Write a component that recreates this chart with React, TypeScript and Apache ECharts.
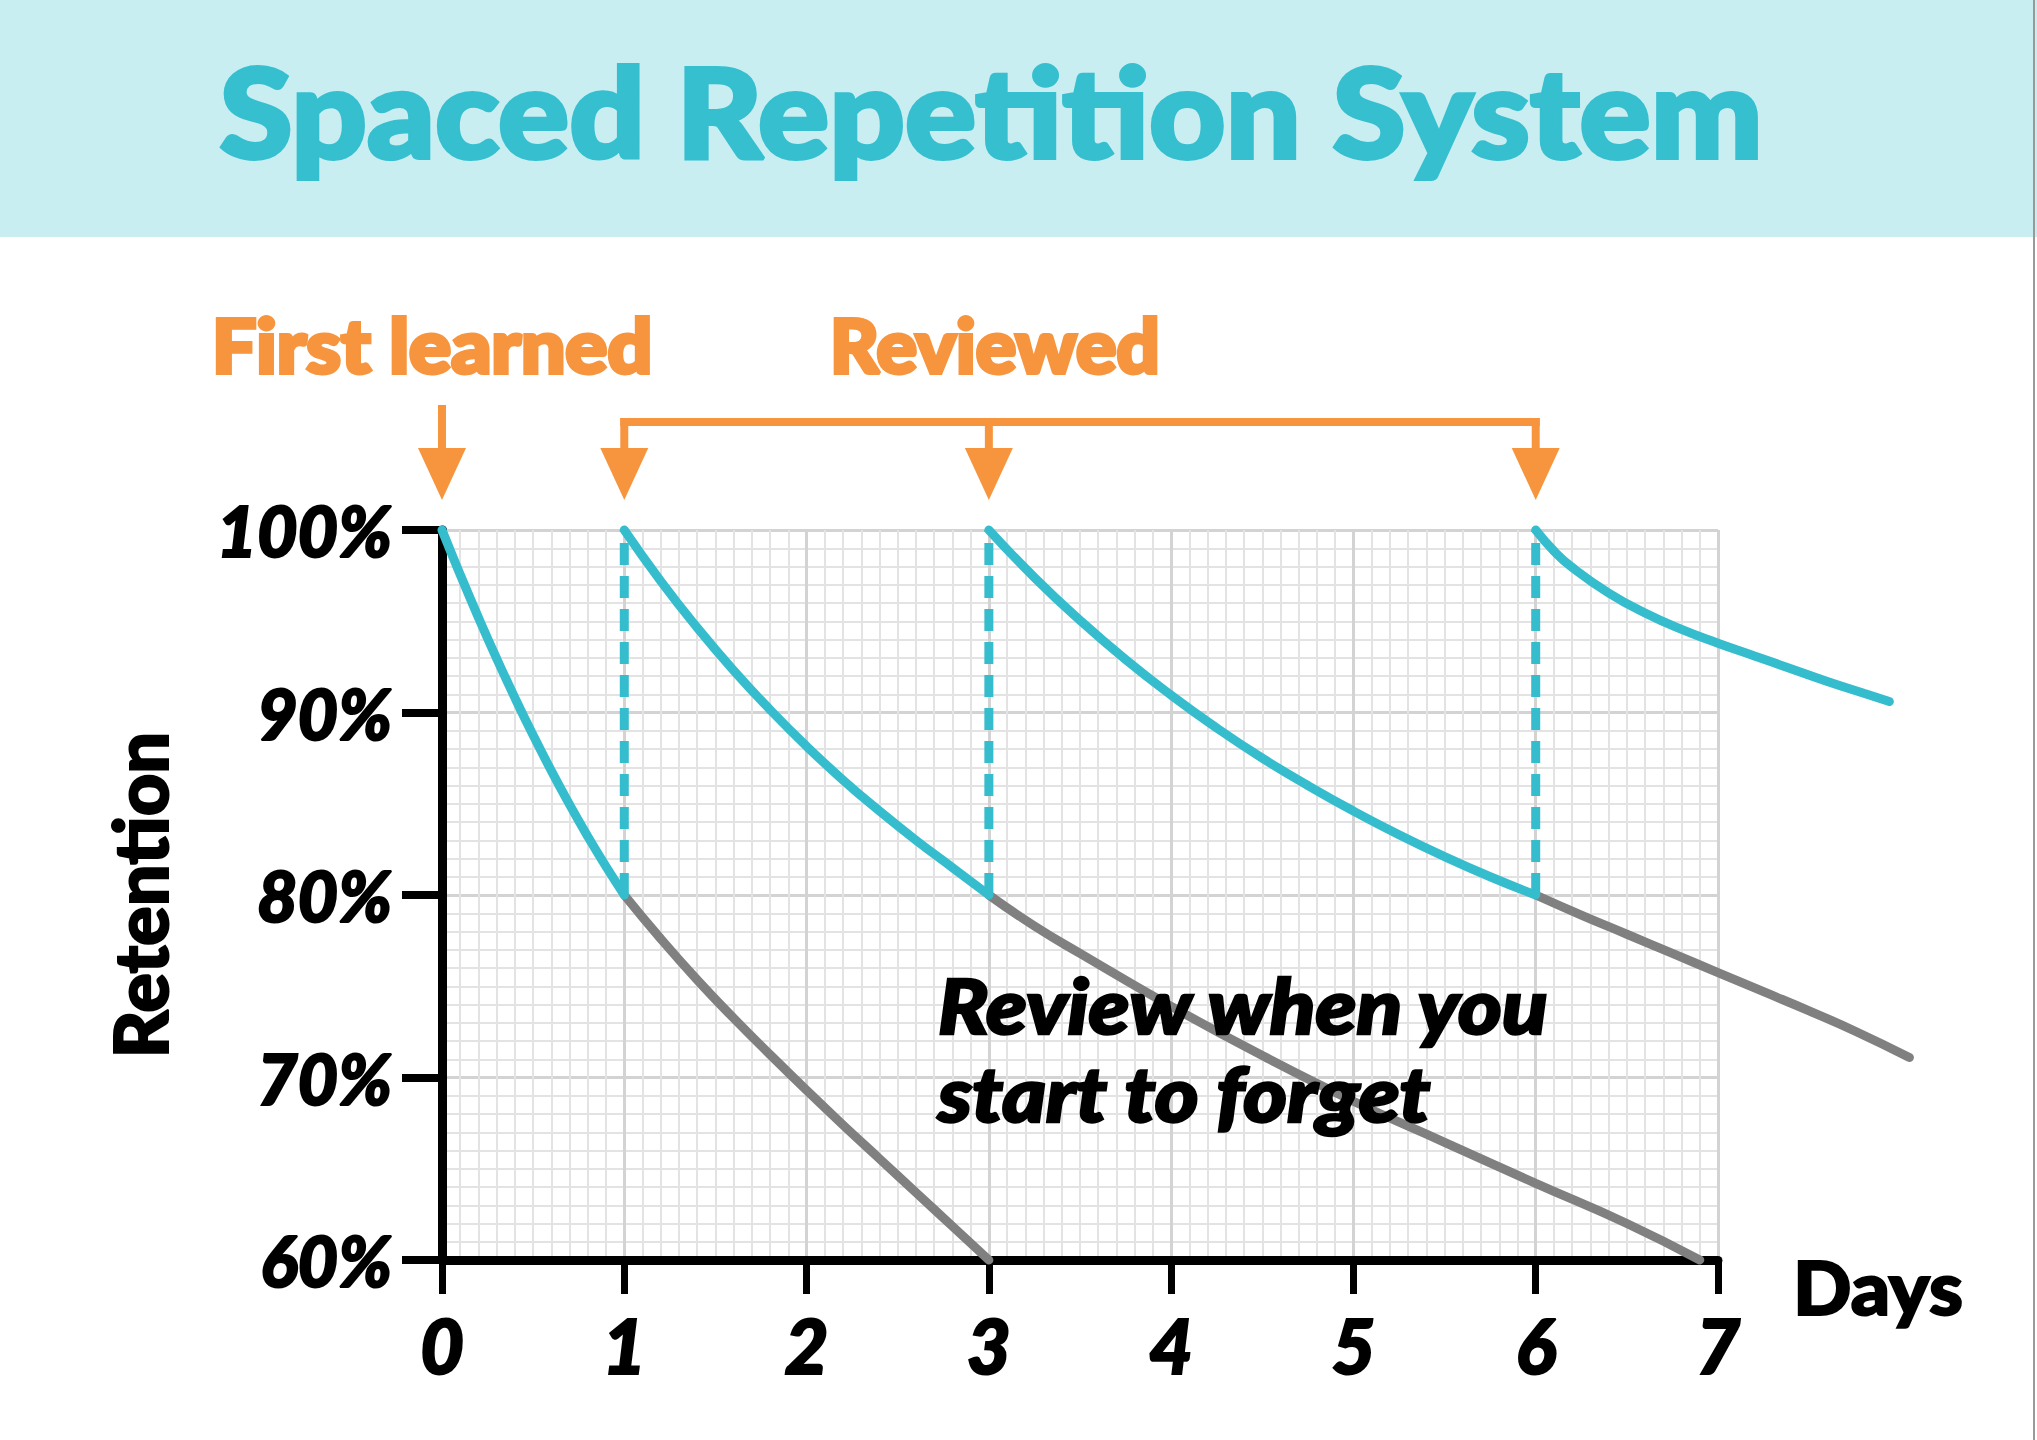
import React, { useEffect, useRef } from "react";
import * as echarts from "echarts";

// ---------- data ----------
const dayMin = 0;
const dayMax = 7;
const dayPlotMax = 8.2; // curves run past the last day tick
const retentionMin = 60;
const retentionMax = 100;
const firstLearnedDay = 0;
const reviewDays = [1, 3, 6];
const reviewThreshold = 80;

// retention while remembering (teal)
const firstDecay = [
  [0, 100], [0.1, 97.55], [0.2, 95.2], [0.3, 92.95], [0.4, 90.8], [0.5, 88.75],
  [0.6, 86.8], [0.7, 84.95], [0.8, 83.2], [0.9, 81.55], [1, 80],
];
const review1Decay = [
  [1, 100], [1.2, 97.2], [1.4, 94.65], [1.6, 92.3], [1.8, 90.15], [2.0, 88.15],
  [2.2, 86.3], [2.4, 84.6], [2.6, 83.0], [2.8, 81.5], [3, 80],
];
const review2Decay = [
  [3, 100], [3.25, 97.4], [3.5, 95.05], [3.75, 92.9], [4, 90.95], [4.25, 89.15],
  [4.5, 87.5], [4.75, 86.0], [5, 84.6], [5.25, 83.3], [5.5, 82.1], [5.75, 81.0], [6, 80],
];
const review3Decay = [
  [6, 100], [6.1, 98.85], [6.2, 97.95], [6.4, 96.55], [6.6, 95.45], [6.8, 94.55],
  [7.0, 93.8], [7.2, 93.1], [7.4, 92.4], [7.6, 91.7], [7.8, 91.05], [7.94, 90.6],
];
// forgetting without review (gray)
const forget1 = [
  [1, 80], [1.2, 77.6], [1.4, 75.35], [1.6, 73.25], [1.8, 71.25], [2.0, 69.3],
  [2.2, 67.4], [2.4, 65.55], [2.6, 63.7], [2.8, 61.85], [3, 60],
];
const forget2 = [
  [3, 80], [3.25, 78.3], [3.5, 76.8], [4, 73.9], [4.5, 71.2], [5, 68.7],
  [5.5, 66.45], [6, 64.2], [6.5, 62.0], [6.9, 60],
];
const forget3 = [
  [6, 80], [6.25, 78.9], [6.5, 77.85], [6.75, 76.8], [7, 75.75], [7.25, 74.7],
  [7.5, 73.65], [7.75, 72.55], [8.05, 71.1],
];

const titleText = "Spaced Repetition System";
const firstLearnedText = "First learned";
const reviewedText = "Reviewed";
const noteLines = ["Review when you", "start to forget"];
const xAxisName = "Days";
const yAxisName = "Retention";

// ---------- styles ----------
const TEAL = "#36bdcd";
const GRAY = "#808080";
const ORANGE = "#f7953e";
const FONT = "Lato";

const GRID_LEFT = 442;
const GRID_RIGHT = 319;
const GRID_TOP = 530;
const GRID_BOTTOM = 180;
const CHART_W = 2037;

export default function App() {
  const ref = useRef<HTMLDivElement>(null);

  useEffect(() => {
    if (!ref.current) return;
    const chart = echarts.init(ref.current, null, { renderer: "svg" });

    const gridW = CHART_W - GRID_LEFT - GRID_RIGHT;
    const plotW = (gridW * (dayPlotMax - dayMin)) / (dayMax - dayMin);

    const curve = (name: string, data: number[][], color: string, z: number) => ({
      type: "line",
      name,
      data,
      xAxisIndex: 1,
      yAxisIndex: 1,
      smooth: true,
      symbol: "none",
      clip: false,
      z,
      lineStyle: { color, width: 9, cap: "round" },
    });

    const dashed = reviewDays.map((d) => ({
      type: "line",
      name: "review " + d,
      data: [[d, reviewThreshold], [d, retentionMax]],
      xAxisIndex: 1,
      yAxisIndex: 1,
      symbol: "none",
      clip: false,
      z: 3,
      lineStyle: { color: TEAL, width: 9, type: [22, 11] },
    }));

    const bold = { textBorderColor: "#000", textBorderWidth: 2 };

    chart.setOption({
      animation: false,
      backgroundColor: "#ffffff",
      grid: [
        { left: GRID_LEFT, right: GRID_RIGHT, top: GRID_TOP, bottom: GRID_BOTTOM, containLabel: false },
        { left: GRID_LEFT, width: plotW, top: GRID_TOP, bottom: GRID_BOTTOM, containLabel: false },
      ],
      xAxis: [
        {
          gridIndex: 0,
          type: "value",
          min: dayMin,
          max: dayMax,
          interval: 1,
          axisLine: { show: true, onZero: false, lineStyle: { color: "#000", width: 9 } },
          axisTick: { show: true, length: 34, lineStyle: { color: "#000", width: 7 } },
          axisLabel: {
            margin: 46, fontFamily: FONT, fontWeight: 900, fontStyle: "italic",
            fontSize: 76, color: "#000", ...bold,
          },
          splitLine: { show: true, lineStyle: { color: "#d3d3d3", width: 3 } },
          minorTick: { show: false, splitNumber: 10 },
          minorSplitLine: { show: true, lineStyle: { color: "#e3e3e3", width: 2 } },
        },
        { gridIndex: 1, type: "value", min: dayMin, max: dayPlotMax, show: false },
      ],
      yAxis: [
        {
          gridIndex: 0,
          type: "value",
          min: retentionMin,
          max: retentionMax,
          interval: 10,
          name: yAxisName,
          nameLocation: "middle",
          nameRotate: 90,
          nameGap: 266,
          nameTextStyle: { fontFamily: FONT, fontWeight: 900, fontSize: 74, color: "#000", ...bold },
          axisLine: { show: true, onZero: false, lineStyle: { color: "#000", width: 9 } },
          axisTick: { show: true, length: 40, lineStyle: { color: "#000", width: 8 } },
          axisLabel: {
            margin: 50, formatter: "{value}%", fontFamily: FONT, fontWeight: 900,
            fontStyle: "italic", fontSize: 70, color: "#000", padding: [20, 0, 0, 0], ...bold,
          },
          splitLine: { show: true, lineStyle: { color: "#d3d3d3", width: 3 } },
          minorTick: { show: false, splitNumber: 10 },
          minorSplitLine: { show: true, lineStyle: { color: "#e3e3e3", width: 2 } },
        },
        { gridIndex: 1, type: "value", min: retentionMin, max: retentionMax, show: false },
      ],
      series: [
        curve("forget 1", forget1, GRAY, 2),
        curve("forget 2", forget2, GRAY, 2),
        curve("forget 3", forget3, GRAY, 2),
        ...dashed,
        curve("first learned", firstDecay, TEAL, 4),
        curve("review 1", review1Decay, TEAL, 4),
        curve("review 2", review2Decay, TEAL, 4),
        curve("review 3", review3Decay, TEAL, 4),
      ],
    });

    // annotation arrows anchored to the axes' scales
    const px = (d: number, r: number) =>
      chart.convertToPixel({ xAxisIndex: 0, yAxisIndex: 0 }, [d, r]) as number[];
    const topY = px(0, retentionMax)[1];
    const tipY = topY - 30;
    const headH = 52;
    const headW = 24;
    const bracketY = tipY - 78;
    const stemTopFirst = tipY - 95;
    const head = (x: number) => ({
      type: "polygon",
      shape: { points: [[x - headW, tipY - headH], [x + headW, tipY - headH], [x, tipY]] },
      style: { fill: ORANGE },
      z: 10,
    });
    const stem = (x: number, y1: number) => ({
      type: "line",
      shape: { x1: x, y1, x2: x, y2: tipY - headH + 2 },
      style: { stroke: ORANGE, lineWidth: 8 },
      z: 10,
    });
    const xFirst = px(firstLearnedDay, retentionMax)[0];
    const xs = reviewDays.map((d) => px(d, retentionMax)[0]);
    const arrows: any[] = [
      stem(xFirst, stemTopFirst),
      head(xFirst),
      {
        type: "line",
        shape: { x1: xs[0] - 4, y1: bracketY, x2: xs[xs.length - 1] + 4, y2: bracketY },
        style: { stroke: ORANGE, lineWidth: 8 },
        z: 10,
      },
      ...xs.map((x) => stem(x, bracketY - 4)),
      ...xs.map((x) => head(x)),
    ];

    const txt = (
      text: string, x: number, y: number, size: number, fill: string,
      align: string, scaleX: number, extra: any = {}
    ) => ({
      type: "text",
      x,
      y,
      scaleX,
      z: 20,
      style: {
        text,
        fill,
        stroke: fill,
        lineWidth: 4,
        fontFamily: FONT,
        fontWeight: 900,
        fontSize: size,
        align,
        verticalAlign: "middle",
        ...extra,
      },
    });

    const axisEnd = px(dayMax, retentionMin);

    chart.setOption({
      graphic: [
        { type: "rect", shape: { x: 0, y: 0, width: CHART_W, height: 237 }, style: { fill: "#c8eef2" }, z: 1 },
        { type: "line", shape: { x1: 2034, y1: 0, x2: 2034, y2: 1440 }, style: { stroke: "#9a9a9a", lineWidth: 2 }, z: 1 },
        txt(titleText, 991, 110, 124, "#36bfcf", "center", 1.07),
        txt(firstLearnedText, 212, 344, 74, ORANGE, "left", 1.06),
        txt(reviewedText, 830, 344, 74, ORANGE, "left", 1.02),
        ...noteLines.map((l, i) =>
          txt(l, 938, 1005 + i * 88, 76, "#000", "left", 1.1, { fontStyle: "italic", lineWidth: 2.5 })
        ),
        txt(xAxisName, axisEnd[0] + 75, axisEnd[1] + 26, 74, "#000", "left", 1.04, { lineWidth: 2 }),
        ...arrows,
      ],
    });

    return () => chart.dispose();
  }, []);

  return (
    <div
      ref={ref}
      style={{ position: "fixed", left: 0, top: 0, width: CHART_W, height: 1440, background: "#fff" }}
    />
  );
}
